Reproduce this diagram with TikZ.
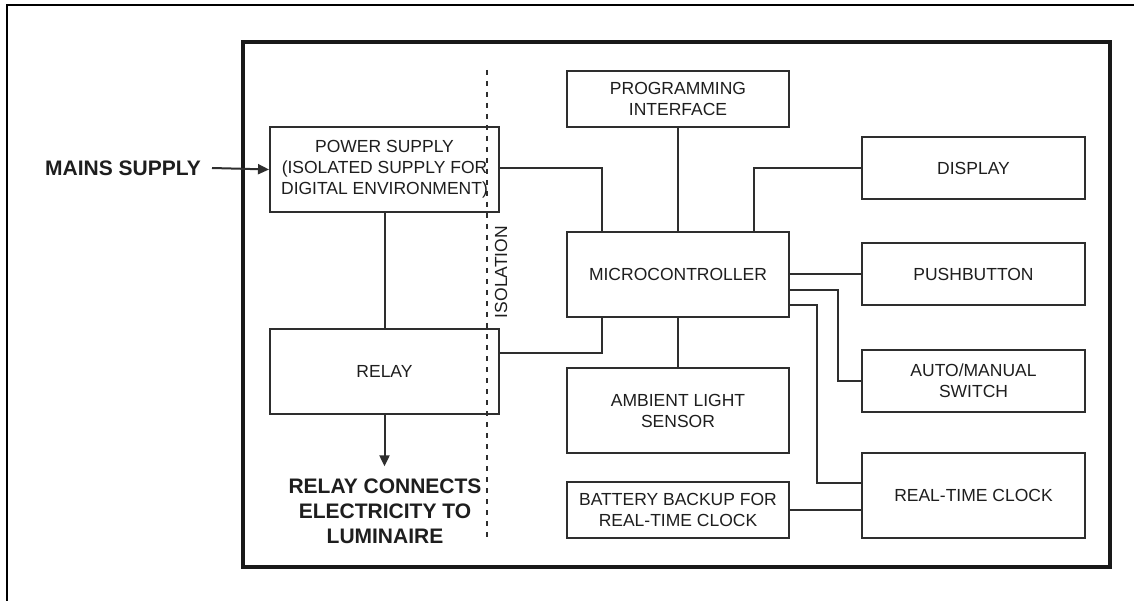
\documentclass[tikz,border=0pt]{standalone}
\usepackage{fontspec}
\setmainfont{Liberation Sans}
\usetikzlibrary{calc,arrows.meta}
\definecolor{ink}{HTML}{2E2E2E}
\definecolor{txt}{HTML}{1E1E1E}
\begin{document}
\begin{tikzpicture}[x=1pt,y=-1pt,
  box/.style={draw=ink,line width=2pt,inner sep=0pt,align=center,
              font=\fontsize{17.5}{21}\selectfont,text=txt},
  wire/.style={draw=ink,line width=2pt},
  bigtext/.style={font=\fontsize{21}{25}\selectfont\bfseries,text=txt,align=center,inner sep=0pt},
  tip/.style={-{Triangle[length=11pt,width=10pt]}}
]
\useasboundingbox (0,0) rectangle (1134,601);
\fill[white] (0,0) rectangle (1134,601);
% outer frame
\begin{scope}
\clip (0,0) rectangle (1134,601);
\draw[line width=2.2pt,draw=black] (7,5) rectangle (1200,700);
\end{scope}
% thick frame
\draw[line width=4.5pt,draw=black!90] (243,42) rectangle (1110,567);
% isolation dashed line
\draw[draw=ink,line width=2pt,dash pattern=on 5pt off 6pt] (487,70) -- (487,538);
\node[rotate=90,font=\fontsize{17.5}{21}\selectfont,text=txt,inner sep=0pt] (iso) at (501,272) {ISOLATION};

% nodes
\node[box,minimum width=229pt,minimum height=85pt] (ps) at (384.5,169.5)
  {POWER SUPPLY\\(ISOLATED SUPPLY FOR\\DIGITAL ENVIRONMENT)};
\node[box,minimum width=229pt,minimum height=85pt] (relay) at (384.5,371.5) {RELAY};
\node[box,minimum width=222pt,minimum height=56pt] (pi) at (678,99) {PROGRAMMING\\INTERFACE};
\node[box,minimum width=222pt,minimum height=85pt] (mcu) at (678,274.5) {MICROCONTROLLER};
\node[box,minimum width=222pt,minimum height=85pt] (amb) at (678,410.5) {AMBIENT LIGHT\\SENSOR};
\node[box,minimum width=222pt,minimum height=56pt] (bat) at (678,510) {BATTERY BACKUP FOR\\REAL-TIME CLOCK};
\node[box,minimum width=223pt,minimum height=62pt] (disp) at (973.5,168) {DISPLAY};
\node[box,minimum width=223pt,minimum height=62pt] (pb) at (973.5,274) {PUSHBUTTON};
\node[box,minimum width=223pt,minimum height=62pt] (auto) at (973.5,381) {AUTO/MANUAL\\SWITCH};
\node[box,minimum width=223pt,minimum height=85pt] (rtc) at (973.5,495.5) {REAL-TIME CLOCK};

\node[bigtext,anchor=east] (mains) at (201,168) {MAINS SUPPLY};
\node[bigtext] (lum) at (385,511) {RELAY CONNECTS\\ELECTRICITY TO\\LUMINAIRE};

% connectors
\draw[wire,tip] ($(mains.east)+(11,0)$) -- (ps.west);
\coordinate (lumtop) at ($(lum.north)+(0,-12)$);
\draw[wire,tip] (relay.south) -- (relay.south |- lumtop);
\draw[wire] (ps.south) -- (relay.north);
\draw[wire] ($(ps.east)+(0,-1.5)$) -| ($(mcu.north west)+(36,0)$);
\draw[wire] ($(relay.east)+(0,-18.5)$) -| ($(mcu.south west)+(36,0)$);
\draw[wire] (pi.south) -- (mcu.north);
\draw[wire] (mcu.south) -- (amb.north);
\draw[wire] (disp.west) -| ($(mcu.north east)+(-36,0)$);
\draw[wire] (mcu.east |- pb.west) -- (pb.west);
\draw[wire] ($(mcu.east)+(0,15.5)$) -| ($(auto.west)+(-23,0)$) -- (auto.west);
\draw[wire] ($(mcu.east)+(0,30.5)$) -| ($(rtc.west)+(-44,-12.5)$) -- ($(rtc.west)+(0,-12.5)$);
\draw[wire] (bat.east) -- (bat.east -| rtc.west);
\end{tikzpicture}
\end{document}
